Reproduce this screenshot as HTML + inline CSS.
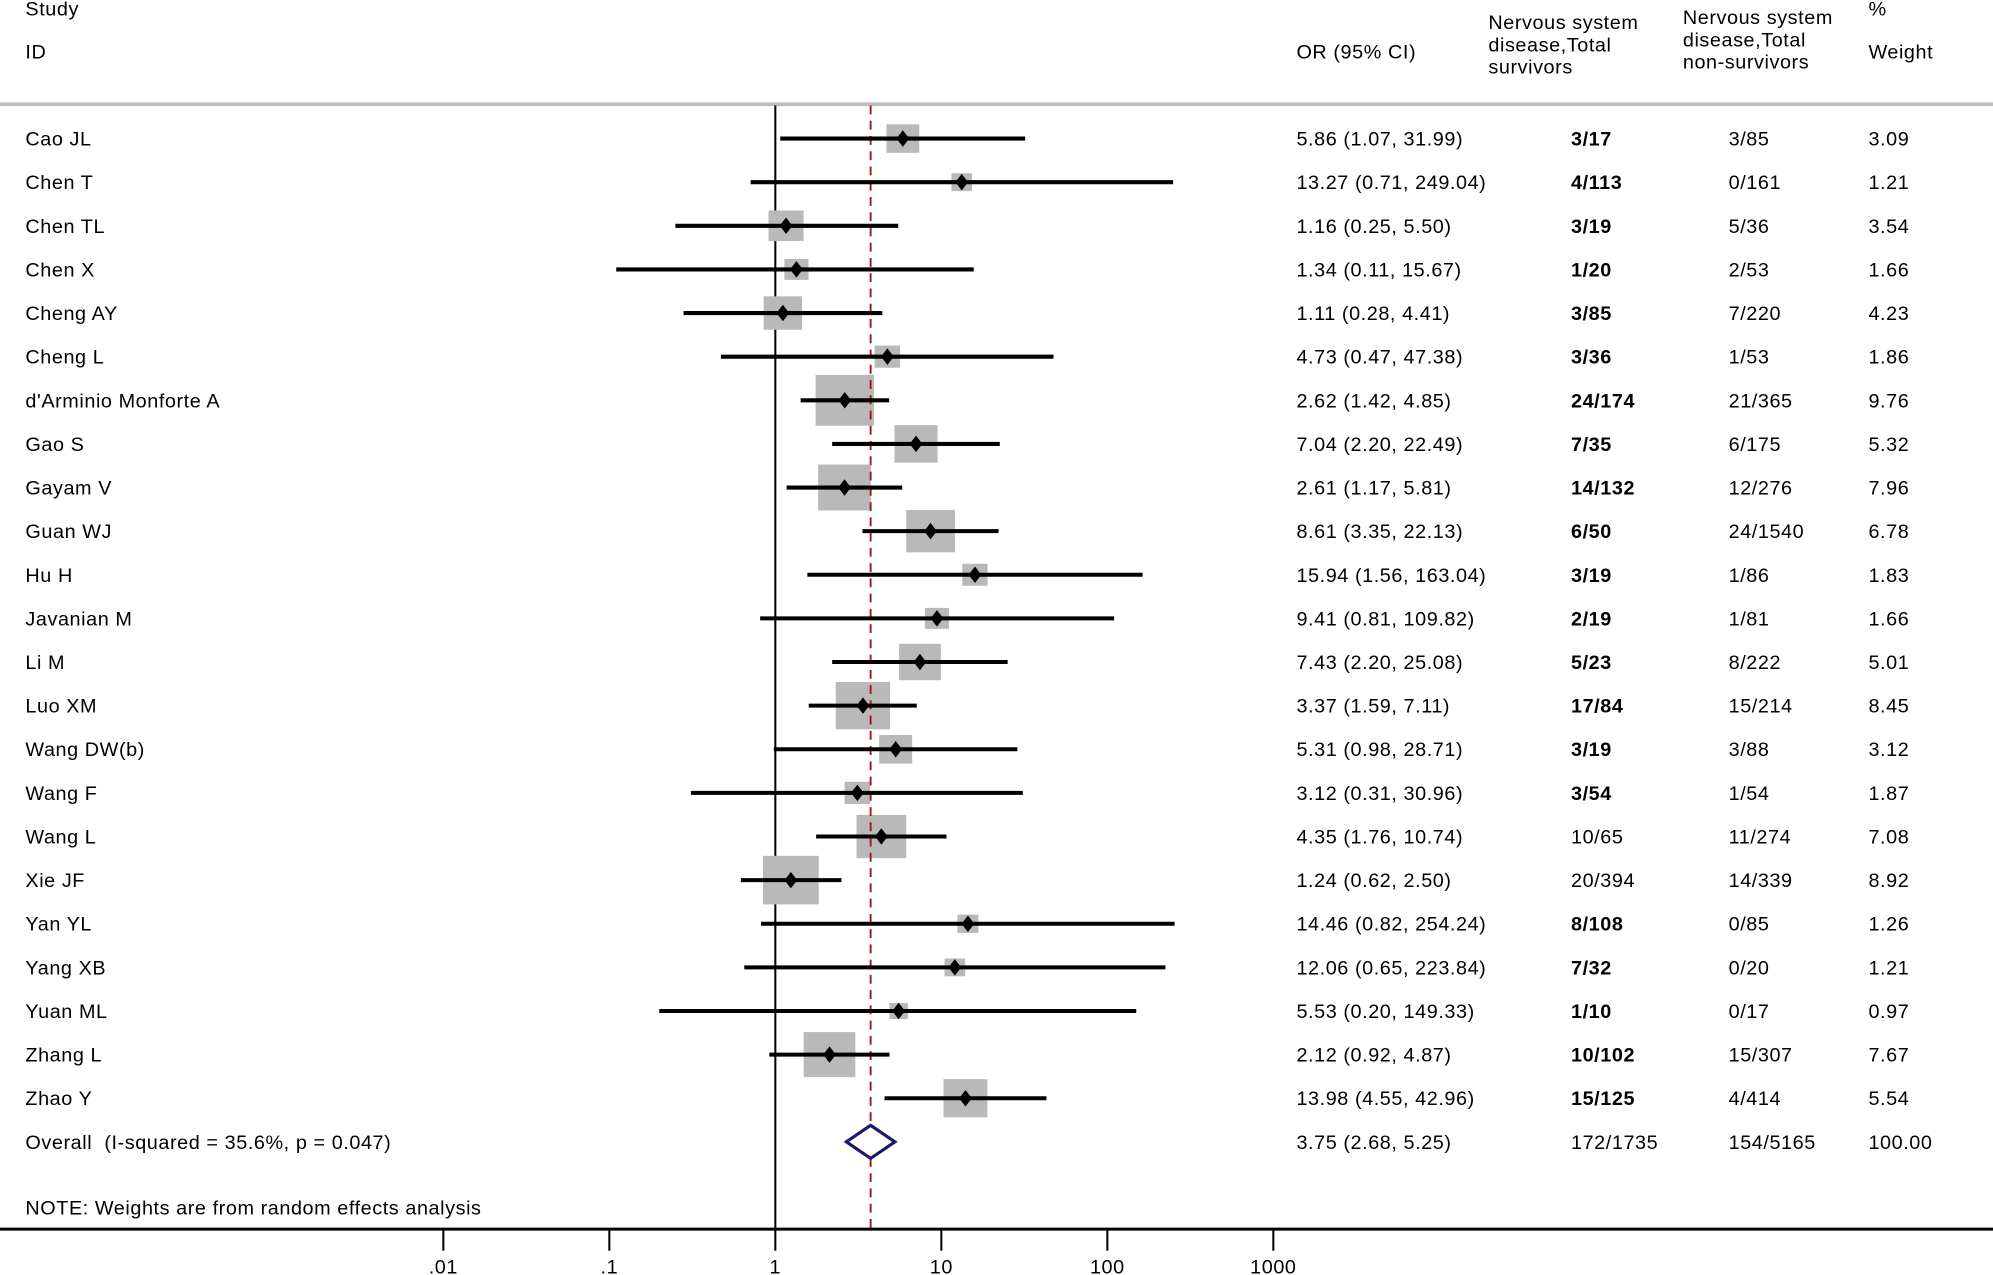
<!DOCTYPE html>
<html><head><meta charset="utf-8"><style>
html,body{margin:0;padding:0;background:#fff;}
svg{display:block;}
text{font-family:"Liberation Sans",Arial,sans-serif;font-size:15.6px;letter-spacing:0.45px;fill:#000;white-space:pre;}
</style></head><body>
<svg id="chart" width="1993" height="1275" viewBox="0 0 1568 1003.1" xmlns="http://www.w3.org/2000/svg">
<g id="hdr">
<text x="20" y="12">Study</text>
<text x="20" y="46">ID</text>
<text x="1020" y="46">OR (95% CI)</text>
<text x="1171" y="23"><tspan x="1171">Nervous system</tspan><tspan x="1171" dy="17.5">disease,Total</tspan><tspan x="1171" dy="17.5">survivors</tspan></text>
<text x="1324" y="19"><tspan x="1324">Nervous system</tspan><tspan x="1324" dy="17.5">disease,Total</tspan><tspan x="1324" dy="17.5">non-survivors</tspan></text>
<text x="1470" y="12">%</text>
<text x="1470" y="46">Weight</text>
<line x1="0" y1="82" x2="1568" y2="82" stroke="#bdbdbd" stroke-width="3"/>
</g>
<g id="plot"></g>
</svg>
<script>
const studies=["Cao JL","Chen T","Chen TL","Chen X","Cheng AY","Cheng L","d'Arminio Monforte A","Gao S","Gayam V","Guan WJ","Hu H","Javanian M","Li M","Luo XM","Wang DW(b)","Wang F","Wang L","Xie JF","Yan YL","Yang XB","Yuan ML","Zhang L","Zhao Y"];
const orVals=[5.86,13.27,1.16,1.34,1.11,4.73,2.62,7.04,2.61,8.61,15.94,9.41,7.43,3.37,5.31,3.12,4.35,1.24,14.46,12.06,5.53,2.12,13.98];
const lowVals=[1.07,0.71,0.25,0.11,0.28,0.47,1.42,2.20,1.17,3.35,1.56,0.81,2.20,1.59,0.98,0.31,1.76,0.62,0.82,0.65,0.20,0.92,4.55];
const highVals=[31.99,249.04,5.50,15.67,4.41,47.38,4.85,22.49,5.81,22.13,163.04,109.82,25.08,7.11,28.71,30.96,10.74,2.50,254.24,223.84,149.33,4.87,42.96];
const survivors=["3/17","4/113","3/19","1/20","3/85","3/36","24/174","7/35","14/132","6/50","3/19","2/19","5/23","17/84","3/19","3/54","10/65","20/394","8/108","7/32","1/10","10/102","15/125"];
const survBold=[1,1,1,1,1,1,1,1,1,1,1,1,1,1,1,1,0,0,1,1,1,1,1];
const nonSurvivors=["3/85","0/161","5/36","2/53","7/220","1/53","21/365","6/175","12/276","24/1540","1/86","1/81","8/222","15/214","3/88","1/54","11/274","14/339","0/85","0/20","0/17","15/307","4/414"];
const weights=[3.09,1.21,3.54,1.66,4.23,1.86,9.76,5.32,7.96,6.78,1.83,1.66,5.01,8.45,3.12,1.87,7.08,8.92,1.26,1.21,0.97,7.67,5.54];
const overall=[3.75,2.68,5.25];
const tickVals=[0.01,0.1,1,10,100,1000];
const tickLabels=[".01",".1","1","10","100","1000"];

const NS="http://www.w3.org/2000/svg";
const g=document.getElementById('plot');
const xS=v=>610+130.6*Math.log10(v);
const yS=i=>109+34.32*i;
function mk(t,a,p){const e=document.createElementNS(NS,t);for(const k in a)e.setAttribute(k,a[k]);(p||g).appendChild(e);return e;}
function txt(x,y,s,bold){const e=mk('text',{x:x,y:y+5.5});e.textContent=s;if(bold)e.setAttribute('font-weight','bold');return e;}

let e=mk('line',{x1:xS(1),y1:83,x2:xS(1),y2:967,stroke:'#000','stroke-width':1.6});


studies.forEach((s,i)=>{
  const w=14.7*Math.sqrt(weights[i]),h=12.8*Math.sqrt(weights[i]);
  const b=mk('rect',{x:xS(orVals[i])-w/2,y:yS(i)-h/2,width:w,height:h,fill:'#b9b9b9'});
  
  
});
e=mk('line',{x1:xS(overall[0]),y1:83,x2:xS(overall[0]),y2:967,stroke:'#a01818','stroke-width':1.5,'stroke-dasharray':'7,5'});


studies.forEach((s,i)=>{
  const y=yS(i),cx=xS(orVals[i]);
  const l=mk('line',{x1:xS(lowVals[i]),y1:y,x2:xS(highVals[i]),y2:y,stroke:'#000','stroke-width':3.2});
  
  
  const d=mk('polygon',{points:`${cx-5},${y} ${cx},${y-6.5} ${cx+5},${y} ${cx},${y+6.5}`,fill:'#000'});
  
  
  let t=txt(20,y,s);
  
  
  t=txt(1020,y,orVals[i].toFixed(2)+" ("+lowVals[i].toFixed(2)+", "+highVals[i].toFixed(2)+")");
  
  
  t=txt(1236,y,survivors[i],survBold[i]);
  
  
  t=txt(1360,y,nonSurvivors[i]);
  
  
  t=txt(1470,y,weights[i].toFixed(2));
  
  
});
const oy=yS(studies.length);
e=mk('polygon',{points:`${xS(overall[1])},${oy} ${xS(overall[0])},${oy-13} ${xS(overall[2])},${oy} ${xS(overall[0])},${oy+13}`,fill:'#fff',stroke:'#1a1a6e','stroke-width':2.5});


e=txt(20,oy,"Overall  (I-squared = 35.6%, p = 0.047)");


e=txt(1020,oy,overall[0].toFixed(2)+" ("+overall[1].toFixed(2)+", "+overall[2].toFixed(2)+")");


e=txt(1236,oy,"172/1735");


e=txt(1360,oy,"154/5165");


e=txt(1470,oy,"100.00");


e=txt(20,950,"NOTE: Weights are from random effects analysis");


e=mk('line',{x1:0,y1:967,x2:1568,y2:967,stroke:'#000','stroke-width':2.4});


tickVals.forEach((v,i)=>{
  const x=xS(v);
  const t=mk('line',{x1:x,y1:967,x2:x,y2:984,stroke:'#000','stroke-width':1.6});
  
  
  const l=mk('text',{x:x,y:1002,'text-anchor':'middle'});
  l.textContent=tickLabels[i];
  
  
});
</script>
</body></html>
